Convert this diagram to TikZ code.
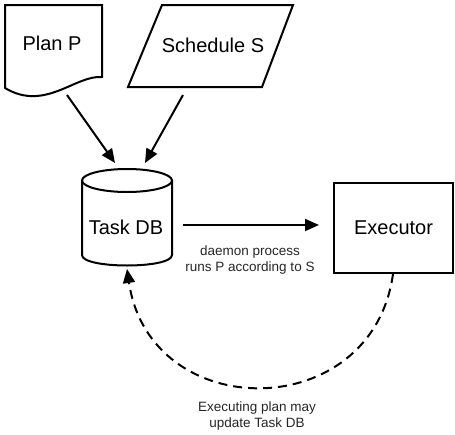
\documentclass[tikz,border=0pt]{standalone}
\usepackage{fontspec}
\setmainfont{Liberation Sans}
\usetikzlibrary{arrows.meta}

\begin{document}
\begin{tikzpicture}[
    x=1pt, y=-1pt,
    shp/.style={draw=black, line width=2pt, line join=miter},
    lbl/.style={font=\fontsize{20}{24}\selectfont},
    note/.style={font=\fontsize{13.5}{16}\selectfont, align=center, text=black!85},
    arr/.style={-{Triangle[length=14pt,width=12pt]}, line width=2pt}
]
\useasboundingbox (0,0) rectangle (455,434);

% Plan P (document)
\draw[shp] (5,5) -- (102,5) -- (102,77) .. controls (75,75) and (45,112) .. (5,88) -- cycle;
\node[lbl] (plan) at (52,43) {Plan P};

% Schedule S (parallelogram)
\draw[shp] (162,5) -- (293,5) -- (262,87) -- (128,87) -- cycle;
\node[lbl] (sched) at (213,45) {Schedule S};

% Task DB (cylinder)
\draw[shp] (127,180.5) ellipse [x radius=45, y radius=11.5];
\draw[shp] (82,180.5) -- (82,255) .. controls (82,269) and (172,269) .. (172,255) -- (172,180.5);
\node[lbl] (taskdb) at (126,227) {Task DB};

% Executor
\node[lbl, shp, minimum width=119pt, minimum height=90pt] (exec) at (393.5,228) {Executor};

\coordinate (planout) at (67,95);
\coordinate (schedout) at (183,95);
\coordinate (dbin1) at (115,163);
\coordinate (dbin2) at (145,163);
\coordinate (dbout) at (183,225);
\coordinate (dbback) at (127,269);

\draw[arr] (planout) -- (dbin1);
\draw[arr] (schedout) -- (dbin2);
\draw[arr, shorten >=14pt] (dbout) -- (dbout -| exec.west);
\draw[arr, dash pattern=on 9pt off 6pt] ([xshift=-0.5pt]exec.south) .. controls (372,425) and (150,425) .. (dbback);

\node[note] (daemon) at (250,260) {daemon process\\runs P according to S};
\node[note] (update) at (257,416) {Executing plan may\\update Task DB};
\end{tikzpicture}
\end{document}
